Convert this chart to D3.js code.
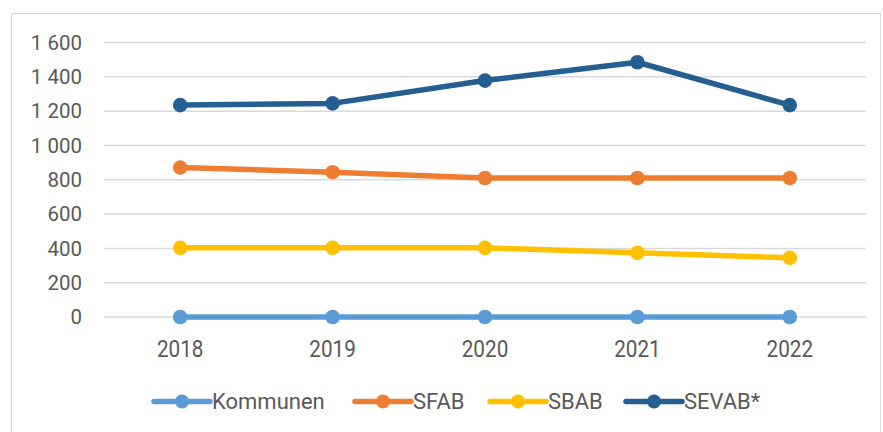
<!DOCTYPE html>
<html>
<head>
<meta charset="utf-8">
<script src="https://cdn.jsdelivr.net/npm/d3@7"></script>
<style>
  body { margin: 0; background: #fff; }
  text { font-family: "Roboto", "Liberation Sans", sans-serif; fill: #595959; }
</style>
</head>
<body>
<script>
// data
var years = ["2018", "2019", "2020", "2021", "2022"];
var seriesNames = ["Kommunen", "SFAB", "SBAB", "SEVAB*"];
var kommunen = [0, 0, 0, 0, 0];
var sfab = [871, 844, 810, 810, 810];
var sbab = [403, 403, 403, 374, 345];
var sevab = [1235, 1245, 1378, 1485, 1235];
var yTicks = [0, 200, 400, 600, 800, 1000, 1200, 1400, 1600];
var colors = ["#5B9BD5", "#ED7D31", "#FFC000", "#255E91"];

var allSeries = [kommunen, sfab, sbab, sevab];

var width = 883, height = 432;
var plotLeft = 104, plotRight = 866, plotTop = 42.5, plotBottom = 317;

var svg = d3.select("body").append("svg")
    .attr("width", width)
    .attr("height", height);

// chart border
svg.append("rect")
    .attr("x", 11.5).attr("y", 13.5)
    .attr("width", 869).attr("height", 420)
    .style("fill", "none")
    .style("stroke", "#d9d9d9")
    .style("stroke-width", "1px");

var x = d3.scaleBand()
    .domain(years)
    .range([plotLeft, plotRight]);

var y = d3.scaleLinear()
    .domain([0, 1600])
    .range([plotBottom, plotTop]);

// gridlines
svg.append("g")
    .selectAll("line")
    .data(yTicks)
    .enter()
    .append("line")
    .attr("x1", plotLeft).attr("x2", plotRight)
    .attr("y1", d => y(d)).attr("y2", d => y(d))
    .style("stroke", "#d9d9d9")
    .style("stroke-width", "1.5px");

// y axis labels (space as thousands separator)
var fmt = d => d3.format(",")(d).replace(",", " ");
svg.append("g")
    .selectAll("text")
    .data(yTicks)
    .enter()
    .append("text")
    .attr("x", 82)
    .attr("y", d => y(d))
    .attr("dy", "0.35em")
    .style("text-anchor", "end")
    .style("font-size", "20.5px")
    .text(fmt);

// x axis labels
svg.append("g")
    .selectAll("text")
    .data(years)
    .enter()
    .append("text")
    .attr("transform", d => "translate(" + (x(d) + x.bandwidth() / 2) + ",348.5) scale(0.9,1)")
    .attr("dy", "0.35em")
    .style("text-anchor", "middle")
    .style("font-size", "23px")
    .text(d => d);

var line = d3.line()
    .x((d, i) => x(years[i]) + x.bandwidth() / 2)
    .y(d => y(d));

allSeries.forEach(function(vals, k) {
    var g = svg.append("g");
    g.append("path")
        .datum(vals)
        .attr("d", line)
        .style("fill", "none")
        .style("stroke", colors[k])
        .style("stroke-width", "5.5px")
        .style("stroke-linejoin", "round");
    g.selectAll("circle")
        .data(vals)
        .enter()
        .append("circle")
        .attr("cx", (d, i) => x(years[i]) + x.bandwidth() / 2)
        .attr("cy", d => y(d))
        .attr("r", 7.3)
        .style("fill", colors[k]);
});

// legend
var legendX = [154, 355, 490, 626];
var legend = svg.append("g")
    .selectAll("g")
    .data(seriesNames)
    .enter()
    .append("g")
    .attr("transform", (d, i) => "translate(" + legendX[i] + ",401.5)");
legend.append("line")
    .attr("x1", 0).attr("x2", 56)
    .style("stroke", (d, i) => colors[i])
    .style("stroke-width", "5.5px")
    .style("stroke-linecap", "round");
legend.append("circle")
    .attr("cx", 28).attr("r", 7)
    .style("fill", (d, i) => colors[i]);
legend.append("text")
    .attr("x", 58)
    .attr("dy", "0.35em")
    .style("font-size", "22px")
    .text(d => d);
</script>
</body>
</html>
